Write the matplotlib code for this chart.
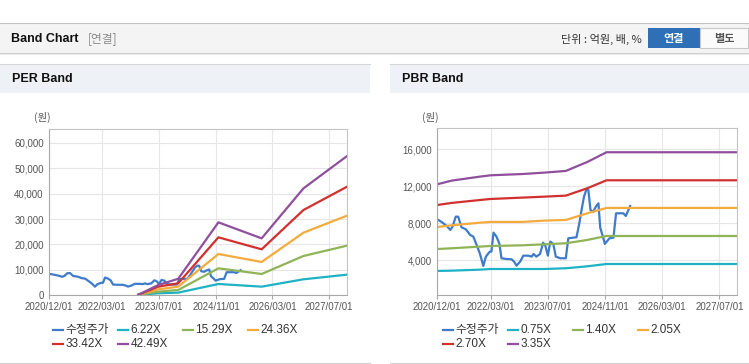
import matplotlib
matplotlib.use("Agg")
import matplotlib.pyplot as plt
import matplotlib.dates as mdates
import pandas as pd
from matplotlib.patches import Rectangle
from matplotlib.lines import Line2D

plt.rcParams["font.family"] = ["Liberation Sans", "Noto Sans CJK KR"]

W, H = 749, 364

# adjusted share price (shared by both charts)
price_dates = [
    "2020-12-01", "2021-01-07", "2021-02-19", "2021-03-22", "2021-04-10", "2021-05-07",
    "2021-05-28", "2021-06-25", "2021-08-01", "2021-09-07", "2021-10-04", "2021-11-01",
    "2021-11-28", "2021-12-28", "2022-01-19", "2022-02-10", "2022-02-22", "2022-03-07",
    "2022-03-25", "2022-04-19", "2022-05-13", "2022-06-01", "2022-07-13", "2022-08-25",
    "2022-09-16", "2022-10-07", "2022-11-07", "2022-12-04", "2023-01-16", "2023-02-13",
    "2023-02-28", "2023-03-25", "2023-04-25", "2023-05-22", "2023-06-10", "2023-07-01",
    "2023-07-22", "2023-08-16", "2023-09-07", "2023-10-13", "2023-12-01", "2023-12-22",
    "2024-03-01", "2024-03-25", "2024-04-13", "2024-05-04", "2024-05-25", "2024-06-10",
    "2024-06-28", "2024-07-22", "2024-08-13", "2024-09-04", "2024-09-19", "2024-10-16",
    "2024-10-28", "2024-12-07", "2025-01-10", "2025-02-01", "2025-04-04", "2025-04-25",
    "2025-06-01",
]
price_values = [
    8430, 8140, 7710, 7280, 7640, 8720,
    8720, 7570, 7350, 6740, 6560, 5660,
    4760, 3390, 4400, 4760, 4940, 4940,
    6990, 6560, 5840, 4220, 4140, 4110,
    3860, 3420, 3860, 4500, 4500, 4400,
    4680, 4400, 4680, 5910, 5550, 4500,
    6020, 5770, 4400, 4220, 4220, 6380,
    6490, 8000, 9440, 10880, 11680, 11600,
    9440, 9260, 9800, 10160, 7530, 6380,
    5770, 6380, 6450, 9080, 9080, 8790,
    9870,
]

# PER band
per_labels = ["6.22X", "15.29X", "24.36X", "33.42X", "42.49X"]
per_dates = ["2023-01-04", "2023-06-25", "2023-12-13", "2024-11-22",
             "2025-11-28", "2026-11-22", "2027-12-01"]
per_6_22 = [200, 800, 1050, 4450, 3400, 6290, 8120]
per_15_29 = [200, 1440, 2100, 10610, 8380, 15460, 19520]
per_24_36 = [200, 2360, 3400, 16240, 13100, 24630, 31310]
per_33_42 = [200, 3400, 4720, 22800, 18080, 33540, 42700]
per_42_49 = [200, 4060, 6500, 28690, 22400, 42050, 54760]

# PBR band
pbr_labels = ["0.75X", "1.40X", "2.05X", "2.70X", "3.35X"]
pbr_dates = ["2020-12-01", "2021-04-01", "2021-12-01", "2022-03-01", "2022-12-01",
             "2023-06-01", "2023-12-01", "2024-06-01", "2024-11-12", "2027-12-01"]
pbr_0_75 = [2850, 2880, 2990, 3060, 3060, 3060, 3140, 3350, 3600, 3600]
pbr_1_40 = [5220, 5300, 5480, 5550, 5620, 5730, 5840, 6200, 6630, 6630]
pbr_2_05 = [7600, 7780, 8070, 8150, 8150, 8290, 8360, 9080, 9660, 9660]
pbr_2_70 = [9980, 10200, 10520, 10630, 10780, 10880, 10990, 11790, 12650, 12650]
pbr_3_35 = [12220, 12610, 13050, 13190, 13330, 13480, 13660, 14630, 15680, 15680]

x_ticks = ["2020-12-01", "2022-03-01", "2023-07-01", "2024-11-01", "2026-03-01", "2027-07-01"]
x_range = ("2020-12-01", "2027-12-01")

price_label = "수정주가"
colors = ["#3e7bcb", "#1db2c4", "#8fb457", "#f5aa3c", "#d2302e", "#8f4f9d"]


def fx(px):
    return px / W


def fy(py):
    return 1 - py / H


fig = plt.figure(figsize=(W / 100, H / 100), dpi=100)
fig.patch.set_facecolor("white")


def frect(x0, y0, x1, y1, color, z=0):
    fig.patches.append(Rectangle((fx(x0), fy(y1)), fx(x1) - fx(x0), fy(y0) - fy(y1),
                                 transform=fig.transFigure, facecolor=color,
                                 edgecolor="none", zorder=z))


def fline(x0, x1, y, color, lw=0.8):
    fig.lines.append(Line2D([fx(x0), fx(x1)], [fy(y), fy(y)], transform=fig.transFigure,
                            color=color, lw=lw))


# top header bar
frect(0, 22.5, 749, 52.5, "#f4f4f4")
fline(0, 749, 22.5, "#c2c2c2")
fline(0, 749, 52.8, "#cfcfcf")
fline(0, 749, 53.8, "#e9e9e9")
fig.text(fx(11), fy(38.5), "Band Chart", fontsize=9, fontweight="bold", color="#111",
         va="center")
fig.text(fx(88), fy(39), "[연결]", fontsize=8.5, color="#8a8a8a", va="center",
         family=["Noto Sans CJK KR"])
fig.text(fx(642), fy(39), "단위 : 억원, 배, %", fontsize=8, color="#333", va="center",
         ha="right", family=["Noto Sans CJK KR"])
frect(648, 28.3, 700, 48.3, "#2f6fb6", z=1)
frect(700, 28.3, 748, 48.3, "#fbfbfb", z=1)
fig.patches.append(Rectangle((fx(700), fy(48.3)), fx(48), fy(28.3) - fy(48.3),
                             transform=fig.transFigure, facecolor="none",
                             edgecolor="#c8c8c8", lw=0.8, zorder=2))
fig.text(fx(674), fy(38.5), "연결", fontsize=8, fontweight="bold", color="white",
         ha="center", va="center", family=["Noto Sans CJK KR"], zorder=3)
fig.text(fx(724), fy(38.5), "별도", fontsize=8, fontweight="bold", color="#555",
         ha="center", va="center", family=["Noto Sans CJK KR"], zorder=3)

# panel headers and bottom borders
for x0, x1, title in [(0, 370, "PER Band"), (390, 749, "PBR Band")]:
    frect(x0, 64.5, x1, 92.5, "#eef2f7")
    fline(x0, x1, 64.3, "#d6d6d6")
    fline(x0, x1, 362.7, "#d2d2d2")
    fig.text(fx(x0 + 11.5), fy(79.5), title, fontsize=9, fontweight="bold", color="#111",
             va="center")


def style_axes(ax, ylim, yticks):
    ax.set_facecolor("white")
    ax.set_xlim(pd.to_datetime(x_range[0]), pd.to_datetime(x_range[1]))
    ax.set_ylim(*ylim)
    ax.set_xticks(pd.to_datetime(x_ticks))
    ax.xaxis.set_major_formatter(mdates.DateFormatter("%Y/%m/%d"))
    ax.set_yticks(yticks)
    ax.yaxis.set_major_formatter(matplotlib.ticker.FuncFormatter(lambda v, p: f"{int(v):,}"))
    ax.grid(True, color="#e6e6e6", lw=0.8)
    ax.set_axisbelow(True)
    for s in ["left", "bottom"]:
        ax.spines[s].set_color("#a8a8a8")
    for s in ["top", "right"]:
        ax.spines[s].set_color("#c4c4c4")
    for s in ax.spines.values():
        s.set_linewidth(0.8)
    ax.tick_params(axis="x", length=3, width=0.8, color="#a8a8a8", labelsize=7,
                   labelcolor="#555", pad=2)
    ax.tick_params(axis="y", length=0, labelsize=7, labelcolor="#555", pad=4)


def draw_legend(x_start, labels):
    col_x = [x_start, x_start + 65, x_start + 130, x_start + 195]
    for i, (lab, col) in enumerate(zip(labels, colors)):
        cx = col_x[i % 4]
        cy = 330 if i < 4 else 344
        fig.lines.append(Line2D([fx(cx), fx(cx + 10)], [fy(cy), fy(cy)],
                                transform=fig.transFigure, color=col, lw=1.6))
        fig.text(fx(cx + 12.5), fy(cy), lab, fontsize=8.5, color="#333", va="center",
                 family=["Liberation Sans", "Noto Sans CJK KR"])


lw = 1.6
pd_price = pd.to_datetime(price_dates)

# PER chart
ax1 = fig.add_axes([fx(49.3), fy(295.3), fx(297.7), (295.3 - 128.5) / H])
style_axes(ax1, (0, 65600), [0, 10000, 20000, 30000, 40000, 50000, 60000])
ax1.plot(pd_price, price_values, color=colors[0], lw=lw)
d = pd.to_datetime(per_dates)
for vals, col in zip([per_6_22, per_15_29, per_24_36, per_33_42, per_42_49], colors[1:]):
    ax1.plot(d, vals, color=col, lw=lw)
fig.text(fx(34), fy(117.5), "(원)", fontsize=7.5, color="#555", va="center",
         family=["Noto Sans CJK KR"])
draw_legend(53, [price_label] + per_labels)

# PBR chart
ax2 = fig.add_axes([fx(437.3), fy(295.3), fx(300), (295.3 - 128.3) / H])
style_axes(ax2, (216, 18270), [4000, 8000, 12000, 16000])
ax2.plot(pd_price, price_values, color=colors[0], lw=lw)
d = pd.to_datetime(pbr_dates)
for vals, col in zip([pbr_0_75, pbr_1_40, pbr_2_05, pbr_2_70, pbr_3_35], colors[1:]):
    ax2.plot(d, vals, color=col, lw=lw)
fig.text(fx(422), fy(117.5), "(원)", fontsize=7.5, color="#555", va="center",
         family=["Noto Sans CJK KR"])
draw_legend(442.7, [price_label] + pbr_labels)

fig.savefig("out.png", dpi=100)
